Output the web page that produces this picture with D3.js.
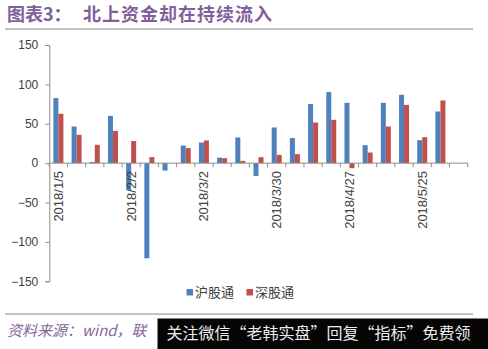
<!DOCTYPE html>
<html><head><meta charset="utf-8">
<script src="https://cdn.jsdelivr.net/npm/d3@7"></script>
<style>
html,body{margin:0;padding:0;background:#fff;}
svg{display:block;font-family:"Liberation Sans","Noto Sans CJK SC",sans-serif;}
</style></head><body>
<svg id="c" width="488" height="349"></svg>
<script>
const categories = ["2018/1/5","2018/1/12","2018/1/19","2018/1/26","2018/2/2","2018/2/9","2018/2/16","2018/2/23",
  "2018/3/2","2018/3/9","2018/3/16","2018/3/23","2018/3/30","2018/4/6","2018/4/13","2018/4/20",
  "2018/4/27","2018/5/4","2018/5/11","2018/5/18","2018/5/25","2018/6/1","2018/6/8"];
const shValues = [82.6,46.5,1.5,60,-34,-120.8,-9.4,22.4,26.2,7,32.6,-16.2,45.3,31.8,75,90.2,76.6,22.8,76.6,86.8,29.2,65.6,null];
const szValues = [62.7,36,23.3,41,28,7.6,0,19,28.8,6.3,2.9,7.6,10.5,11.4,51.6,55,-6.4,13.5,46.5,74,33,79.6,null];
const yTicks = [-150,-100,-50,0,50,100,150];
const labelEvery = 4;
const seriesNames = ["沪股通","深股通"];
const colors = ["#4f81bd","#c0504d"];

const svg = d3.select("#c");
const x = d3.scaleBand().domain(categories).range([49.3, 467.7]).padding(0);
const y = d3.scaleLinear().domain([-150,150]).range([281.3, 45]);
const barW = 5;

// title
svg.append("text").attr("x",7).attr("y",21).attr("fill","#80609a")
  .style("font-size","18px").style("font-weight","bold")
  .style("font-family","'Noto Sans CJK SC',sans-serif")
  .text("图表3：");
svg.append("text").attr("x",83).attr("y",21).attr("fill","#80609a")
  .style("font-size","18px").style("font-weight","bold").style("letter-spacing","1px")
  .style("font-family","'Noto Sans CJK SC',sans-serif")
  .text("北上资金却在持续流入");
svg.append("rect").attr("x",5).attr("y",28).attr("width",468).attr("height",2).attr("fill","#c4c4c4");

// y axis
const yAxis = d3.axisLeft(y).tickValues(yTicks).tickSize(4).tickPadding(7);
const ya = svg.append("g").attr("transform","translate(49.3,0)").call(yAxis);
ya.selectAll("path,line").attr("stroke","#8c8c8c");
ya.selectAll("text").attr("fill","#404040").style("font-size","12px").style("font-family","'Liberation Sans',sans-serif");

// bars
const g = svg.append("g");
[shValues, szValues].forEach((vals, si) => {
  g.selectAll(null).data(categories.map((c,i)=>({c, v: vals[i]})).filter(d=>d.v!==null))
    .enter().append("rect")
    .attr("x", d => x(d.c) + x.bandwidth()/2 - barW + si*barW)
    .attr("width", barW)
    .attr("y", d => y(Math.max(0,d.v)))
    .attr("height", d => Math.abs(y(d.v) - y(0)))
    .attr("fill", colors[si]);
});

// x axis line with tick marks at band boundaries
const xg = svg.append("g");
xg.append("line").attr("x1",x.range()[0]).attr("x2",x.range()[1]).attr("y1",y(0)).attr("y2",y(0)).attr("stroke","#8c8c8c");
const bounds = categories.map(c=>x(c)).concat([x.range()[1]]);
xg.selectAll(null).data(bounds).enter().append("line")
  .attr("x1",d=>d).attr("x2",d=>d).attr("y1",y(0)).attr("y2",y(0)+4).attr("stroke","#8c8c8c");
xg.selectAll(null).data(categories.filter((c,i)=>i%labelEvery===0)).enter().append("text")
  .attr("transform", d => `translate(${x(d)+x.bandwidth()/2+4.5},171) rotate(-90)`)
  .attr("text-anchor","end").attr("fill","#404040")
  .style("font-size","13px").style("font-family","'Liberation Sans',sans-serif")
  .text(d=>d);

// legend
const leg = [{n:seriesNames[0],c:colors[0],x:186.5},{n:seriesNames[1],c:colors[1],x:246.5}];
leg.forEach(l=>{
  svg.append("rect").attr("x",l.x).attr("y",289).attr("width",6.5).attr("height",6.5).attr("fill",l.c);
  svg.append("text").attr("x",l.x+8.5).attr("y",297).attr("fill","#404040")
    .style("font-size","13px").style("font-family","'Noto Sans CJK SC',sans-serif").text(l.n);
});

// footer
svg.append("rect").attr("x",5).attr("y",313).attr("width",468).attr("height",2).attr("fill","#c4c4c4");
svg.append("text").attr("x",7).attr("y",336).attr("fill","#86679a")
  .style("font-size","15px").style("font-style","italic")
  .style("font-family","'Noto Sans CJK SC',sans-serif").text("资料来源：wind，联");
svg.append("rect").attr("x",157.5).attr("y",318.5).attr("width",331).attr("height",31).attr("fill","#050505");
svg.append("text").attr("x",166.5).attr("y",339).attr("fill","#ececec")
  .style("font-size","16px").style("font-family","'Noto Sans CJK SC',sans-serif")
  .text("关注微信“老韩实盘”回复“指标”免费领");
</script>
</body></html>
